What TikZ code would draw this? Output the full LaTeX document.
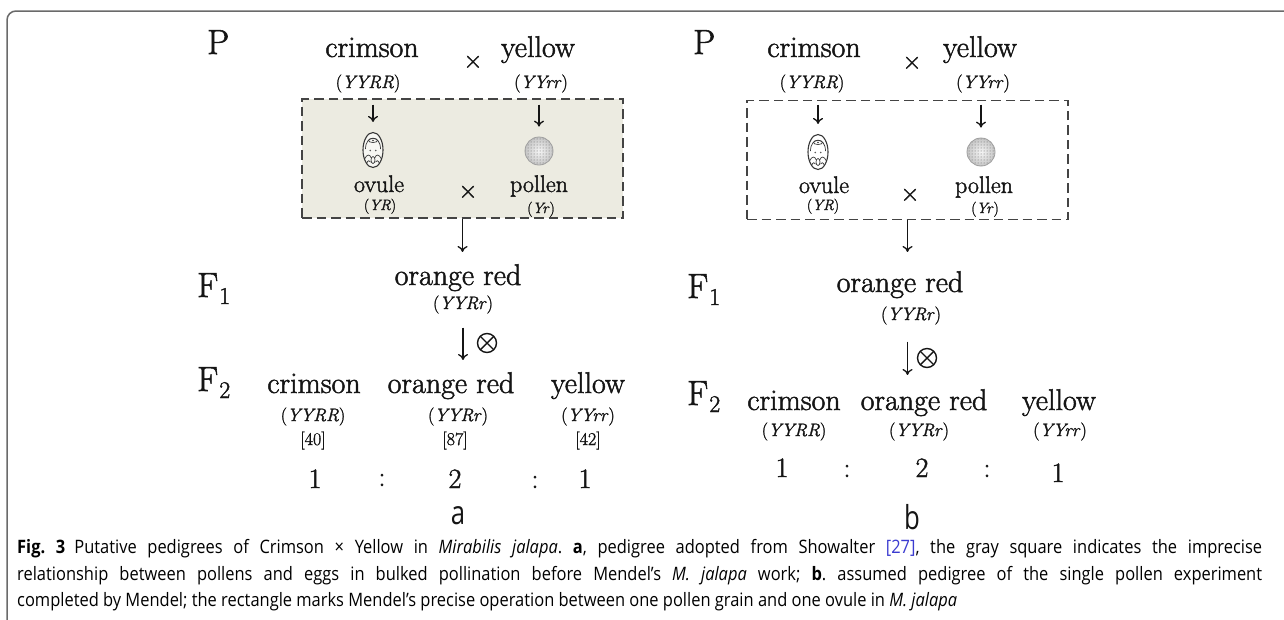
\documentclass[tikz,border=0pt]{standalone}
\usepackage{fontspec}
\usepackage{graphicx}
\usetikzlibrary{arrows.meta,shapes.geometric,patterns,calc}

\newfontfamily\diafont{Latin Modern Roman}[FakeBold=1.6]
\newfontfamily\capfont{Open Sans}
\definecolor{boxfill}{HTML}{ECEBE1}
\definecolor{dashc}{HTML}{444444}
\definecolor{framec}{HTML}{6A6A6A}
\definecolor{refblue}{HTML}{3B3BD0}
\definecolor{inkc}{HTML}{151515}

\newcommand\genot[1]{(\textit{#1})}
\newcommand\gensub[1]{F\kern1pt\raisebox{-7pt}{\fontsize{24}{28}\selectfont #1}}
\newcommand\capstyle{\capfont\fontsize{18.5}{22}\selectfont\frenchspacing}
\newcommand\capone{\textbf{Fig.~3}\hspace{0.55em}Putative pedigrees of Crimson × Yellow in \textit{Mirabilis jalapa}. \textbf{a}, pedigree adopted from Showalter {\color{refblue}[27]}, the gray square indicates the imprecise}
\newcommand\captwo{relationship between pollens and eggs in bulked pollination before Mendel’s \textit{M. jalapa} work; \textbf{b}. assumed pedigree of the single pollen experiment}
\newcommand\capthree{completed by Mendel; the rectangle marks Mendel’s precise operation between one pollen grain and one ovule in \textit{M. jalapa}}
\newlength\capw

\tikzset{
  gen/.style={font=\diafont\fontsize{35}{40}\selectfont, text=inkc, inner sep=0, anchor=base west},
  pheno/.style={font=\diafont\fontsize{30}{36}\selectfont, text=inkc, inner sep=0, anchor=base},
  geno/.style={font=\diafont\fontsize{18}{22}\selectfont, text=inkc, inner sep=0, anchor=base},
  gamete/.style={font=\diafont\fontsize{24}{28}\selectfont, text=inkc, inner sep=0, anchor=base},
  gameteg/.style={font=\diafont\fontsize{15}{18}\selectfont, text=inkc, inner sep=0, anchor=base},
  count/.style={font=\diafont\fontsize{18}{22}\selectfont, text=inkc, inner sep=0, anchor=base},
  ratio/.style={font=\diafont\fontsize{28}{32}\selectfont, text=inkc, inner sep=0, anchor=base},
  crosssym/.style={font=\diafont\fontsize{26}{30}\selectfont, text=inkc, inner sep=0},
  selfsym/.style={circle, draw=inkc, line width=1.4, minimum size=19, inner sep=0,
    path picture={\draw[inkc, line width=1.4]
      (path picture bounding box.south west) -- (path picture bounding box.north east)
      (path picture bounding box.north west) -- (path picture bounding box.south east);}},
  panellbl/.style={text=inkc, inner sep=0},
  capline/.style={text=black, inner sep=0, anchor=base west},
  arr/.style={-{To[length=6,width=10]}, line width=1.3, draw=inkc},
  gamebox/.style={draw=dashc, line width=1.8, dash pattern=on 9.5pt off 5pt,
    minimum width=321, minimum height=119, inner sep=0},
  ovulenode/.style={ellipse, draw=inkc!85, line width=1.1, minimum width=20,
    minimum height=35, inner sep=0, fill=white!60!boxfill},
  pollennode/.style={circle, draw=gray!75, line width=0.8, minimum size=28, inner sep=0,
    inner color=gray!8, outer color=gray!45,
    path picture={\fill[pattern=dots, pattern color=gray!80!black]
      (path picture bounding box.south west) rectangle (path picture bounding box.north east);}},
  ovuledetail/.pic={
    \begin{scope}[draw=inkc!85, line width=0.7]
      \draw (-7.5,-1) .. controls (-7.5,-15.5) and (7.5,-15.5) .. (7.5,-1);
      \draw (0,-9.5) ellipse [x radius=4.5, y radius=2];
      \fill[inkc!85] (0,-9.5) circle (0.9);
      \fill[inkc!70] (-2.8,0.5) circle (0.9);
      \fill[inkc!70] (2.8,0.5) circle (0.9);
      \draw (0,10) ellipse [x radius=2, y radius=3.5];
      \draw (-8.5,9) .. controls (-6,4) and (-3,4) .. (-2.2,7.5);
      \draw (8.5,9) .. controls (6,4) and (3,4) .. (2.2,7.5);
      \draw (-6.5,13.5) .. controls (-5,10) and (-3.5,10) .. (-2.5,12);
      \draw (6.5,13.5) .. controls (5,10) and (3.5,10) .. (2.5,12);
    \end{scope}
  }
}

\begin{document}
% one horizontal squeeze for the whole caption; full lines are justified
\settowidth{\capw}{\capstyle\capthree}
\pgfmathsetmacro\capsx{940/\capw}
\pgfmathsetmacro\capfull{1245/\capsx}
\begin{tikzpicture}[x=1pt,y=-1pt]
\useasboundingbox (0,0) rectangle (1284,619);
\fill[white] (0,0) rectangle (1284,619);

% outer figure frame (open to the right and bottom)
\draw[framec, line width=1.5, rounded corners=9] (7,640) -- (7,11) -- (1300,11);

% ---------------- panel a ----------------
\node[gen] (Pa) at (207,54) {P};
\node[pheno] (ca) at (372,57) {crimson};
\node[pheno] (ya) at (538,57) {yellow};
\node[crosssym] (xa) at (473,62) {×};
\node[geno] (gca) at (368,88) {\genot{YYRR}};
\node[geno] (gya) at (541,88) {\genot{YYrr}};

\node[gamebox, fill=boxfill] (boxa) at (462.5,158.5) {};
\node[ovulenode] (ova) at (373,150) {};
\pic at (ova.center) {ovuledetail};
\node[pollennode] (poa) at (539,151) {};
\node[gamete] (ovta) at (379,192) {ovule};
\node[gameteg] (ovga) at (380,210) {\genot{YR}};
\node[crosssym] (x2a) at (468,192) {×};
\node[gamete] (pota) at (539,192) {pollen};
\node[gameteg] (poga) at (541,213) {\genot{Yr}};
\draw[arr, shorten <=12, shorten >=10] (gca.south -| ova.north) -- (ova.north);
\draw[arr, shorten <=12, shorten >=10] (gya.south -| poa.north) -- (poa.north);

\node[gen] (F1a) at (197,297) {\gensub{1}};
\node[pheno] (f1a) at (458,285) {orange red};
\node[geno] (g1a) at (463,309) {\genot{YYRr}};
\draw[arr, shorten >=12] (boxa.south) -- (boxa.south |- f1a.north);

\node[gen] (F2a) at (197,391) {\gensub{2}};
\node[pheno] (f2ca) at (314,393) {crimson};
\node[pheno] (f2oa) at (451,393) {orange red};
\node[pheno] (f2ya) at (588,393) {yellow};
\draw[arr, shorten <=14, shorten >=12] (g1a.south) -- (g1a.south |- f2oa.north);
\node[selfsym] (sa) at (487,343) {};

\node[geno] (g2ca) at (313,421) {\genot{YYRR}};
\node[geno] (g2oa) at (458,421) {\genot{YYRr}};
\node[geno] (g2ya) at (588,421) {\genot{YYrr}};
\node[count] (n1a) at (313,445) {[40]};
\node[count] (n2a) at (455,445) {[87]};
\node[count] (n3a) at (588,445) {[42]};
\node[ratio] (r1a) at (315,488) {1};
\node[ratio] (c1a) at (382,486) {:};
\node[ratio] (r2a) at (455,488) {2};
\node[ratio] (c2a) at (535,488) {:};
\node[ratio] (r3a) at (585,488) {1};
\node[panellbl] (la) at (458,516) {\scalebox{0.78}[1]{\capfont\fontsize{33}{36}\selectfont a}};

% ---------------- panel b ----------------
\node[gen] (Pb) at (693,54) {P};
\node[pheno] (cb) at (814,57) {crimson};
\node[pheno] (yb) at (980,57) {yellow};
\node[crosssym] (xb) at (912,63) {×};
\node[geno] (gcb) at (812,88) {\genot{YYRR}};
\node[geno] (gyb) at (983,88) {\genot{YYrr}};

\node[gamebox] (boxb) at (907.5,160) {};
\node[ovulenode, fill=white] (ovb) at (818,152) {};
\pic at (ovb.center) {ovuledetail};
\node[pollennode] (pob) at (981,152) {};
\node[gamete] (ovtb) at (824,193) {ovule};
\node[gameteg] (ovgb) at (823,210) {\genot{YR}};
\node[crosssym] (x2b) at (910,195) {×};
\node[gamete] (potb) at (984,193) {pollen};
\node[gameteg] (pogb) at (985,213) {\genot{Yr}};
\draw[arr, shorten <=12, shorten >=10] (gcb.south -| ovb.north) -- (ovb.north);
\draw[arr, shorten <=12, shorten >=10] (gyb.south -| pob.north) -- (pob.north);

\node[gen] (F1b) at (687,298) {\gensub{1}};
\node[pheno] (f1b) at (900,292) {orange red};
\node[geno] (g1b) at (911,320) {\genot{YYRr}};
\draw[arr, shorten >=19] (boxb.south) -- (boxb.south |- f1b.north);

\node[gen] (F2b) at (687,405) {\gensub{2}};
\node[pheno] (f2cb) at (794,410) {crimson};
\node[pheno] (f2ob) at (924,410) {orange red};
\node[pheno] (f2yb) at (1059,410) {yellow};
\draw[arr, shorten <=17, shorten >=14] (g1b.south -| boxb.south) -- (boxb.south |- f2ob.north);
\node[selfsym] (sb) at (927,358) {};

\node[geno] (g2cb) at (794,436) {\genot{YYRR}};
\node[geno] (g2ob) at (919,436) {\genot{YYRr}};
\node[geno] (g2yb) at (1060,436) {\genot{YYrr}};
\node[ratio] (r1b) at (782,477) {1};
\node[ratio] (c1b) at (847,477) {:};
\node[ratio] (r2b) at (922,477) {2};
\node[ratio] (c2b) at (987,477) {:};
\node[ratio] (r3b) at (1058,482) {1};
\node[panellbl] (lb) at (912,517) {\scalebox{0.78}[1]{\capfont\fontsize{33}{36}\selectfont b}};

% ---------------- caption ----------------
\node[capline] (cap1) at (17,553) {\scalebox{\capsx}[1]{\hbox to \capfull pt{\capstyle\capone}}};
\node[capline] (cap2) at (17,580) {\scalebox{\capsx}[1]{\hbox to \capfull pt{\capstyle\captwo}}};
\node[capline] (cap3) at (17,606) {\scalebox{\capsx}[1]{\capstyle\capthree}};
\end{tikzpicture}
\end{document}
